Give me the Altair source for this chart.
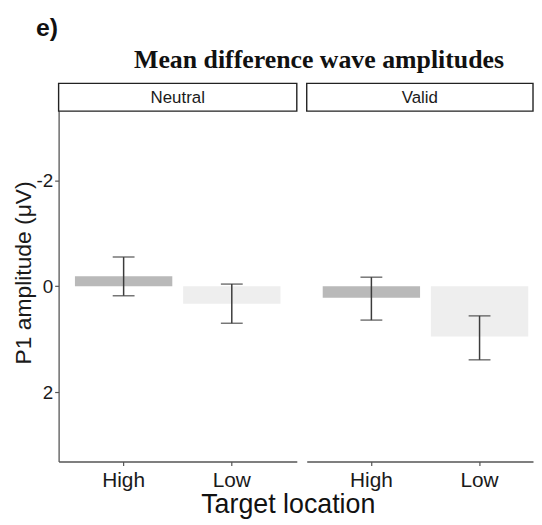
import altair as alt
import pandas as pd

conditions = ["Neutral", "Neutral", "Valid", "Valid"]
locations = ["High", "Low", "High", "Low"]
means = [-0.19, 0.33, 0.22, 0.95]
err_low = [-0.55, -0.04, -0.17, 0.56]
err_high = [0.18, 0.70, 0.64, 1.39]
panel_names = ["Neutral", "Valid"]
y_ticks = [-2, 0, 2]

df = pd.DataFrame({"cond": conditions, "loc": locations, "mean": means,
                   "lo": err_low, "hi": err_high})

FONT = "Liberation Sans"
AX = "#555555"
TXT = "#1a1a1a"
EB = "#3c3c3c"
H = 381
YDOM = [-3.83, 3.31]


def panel(cond, width, po, align, show_y):
    d = df[df["cond"] == cond]
    base = alt.Chart(d)
    xenc = alt.X("loc:N",
                 scale=alt.Scale(domain=["High", "Low"], paddingInner=0.1,
                                 paddingOuter=po, align=align),
                 axis=alt.Axis(title=None, labelAngle=0, labelFontSize=21,
                               labelFont=FONT, labelColor=TXT, tickSize=4,
                               labelPadding=4, domainColor=AX, tickColor=AX,
                               domainWidth=1.3, tickWidth=1.2))
    if show_y:
        yaxis = alt.Axis(values=y_ticks, title="P1 amplitude (μV)",
                         titleFontSize=23, titleFont=FONT,
                         titleFontWeight="normal", titleColor=TXT,
                         labelFontSize=19, labelFont=FONT, labelColor=TXT,
                         labelExpr="'' + datum.value", tickSize=4,
                         labelPadding=2, titlePadding=0, domainColor=AX,
                         tickColor=AX, domainWidth=1.3, tickWidth=1.2,
                         grid=False)
    else:
        yaxis = None
    yscale = alt.Scale(domain=YDOM, reverse=True, nice=False, zero=False)

    bars = base.mark_bar().encode(
        x=xenc,
        y=alt.Y("mean:Q", scale=yscale, axis=yaxis),
        y2=alt.datum(0),
        color=alt.Color("loc:N", scale=alt.Scale(domain=["High", "Low"],
                        range=["#b9b9b9", "#eeeeee"]), legend=None),
    )
    rule = base.mark_rule(color=EB, strokeWidth=1.5).encode(
        x=alt.X("loc:N"), y=alt.Y("lo:Q"), y2=alt.Y2("hi:Q"))
    cap_lo = base.mark_tick(color=EB, size=22, thickness=1.5).encode(
        x=alt.X("loc:N"), y=alt.Y("lo:Q"))
    cap_hi = base.mark_tick(color=EB, size=22, thickness=1.5).encode(
        x=alt.X("loc:N"), y=alt.Y("hi:Q"))

    sdf = pd.DataFrame({"label": [cond]})
    strip = alt.Chart(sdf).mark_rect(fill="white", stroke="#222222",
                                     strokeWidth=1.4).encode(
        x=alt.value(0), x2=alt.value(width), y=alt.value(0), y2=alt.value(28))
    strip_text = alt.Chart(sdf).mark_text(fontSize=17, font=FONT, color=TXT,
                                          baseline="middle").encode(
        x=alt.value(width / 2), y=alt.value(14.5), text="label:N")

    return alt.layer(bars, rule, cap_lo, cap_hi, strip, strip_text).properties(
        width=width, height=H)


left = panel("Neutral", 240, 0.151, 0.5, True)
right = panel("Valid", 228, 0.096, 0.77, False)

inner1 = alt.hconcat(left, right, spacing=8).resolve_scale(
    x="independent", y="independent", color="independent").properties(
    title=alt.TitleParams("Target location", orient="bottom", anchor="middle",
                          fontSize=27, font=FONT, fontWeight="normal",
                          color="#111111", offset=2, dx=15))

inner2 = alt.vconcat(inner1).properties(
    title=alt.TitleParams("Mean difference wave amplitudes", anchor="middle",
                          fontSize=26, font="Liberation Serif",
                          fontWeight="bold", color="#111111", offset=10,
                          dx=46))

chart = alt.vconcat(inner2).properties(
    title=alt.TitleParams("e)", anchor="start", fontSize=25, font=FONT,
                          fontWeight="bold", color="#111111", offset=6,
                          dx=23),
    padding={"left": 5, "top": 6, "right": 0, "bottom": 0},
).configure_view(stroke=None)

chart.save("out.html", embed_options={"renderer": "svg", "actions": False})
